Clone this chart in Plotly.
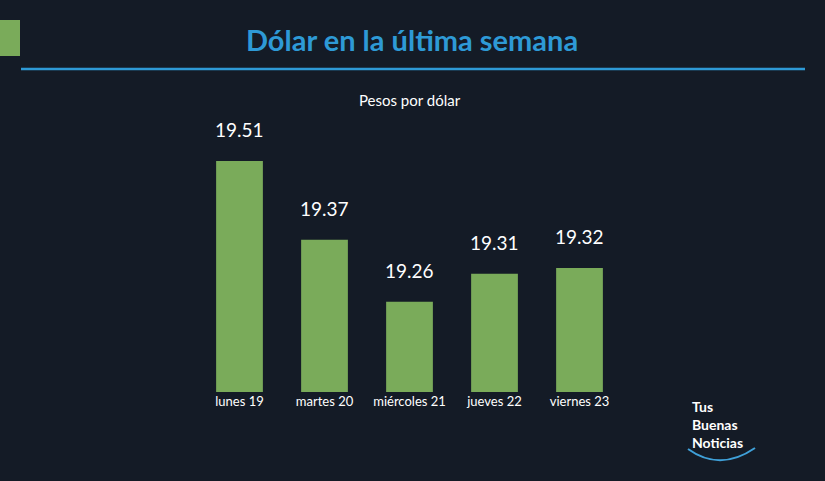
import plotly.graph_objects as go

days = ["lunes 19", "martes 20", "miércoles 21", "jueves 22", "viernes 23"]
values = [19.51, 19.37, 19.26, 19.31, 19.32]

bg = "#141b26"
H = 293.0
def py(p):  # pixel y -> paper y
    return (392 - p) / H
def px(p):
    return (p - 197) / 425.0

fig = go.Figure(go.Bar(
    x=days, y=values, width=0.55, marker_color="#7aab5a", marker_line_width=0,
))
ann = [
    dict(x=d, y=v, yref="y", xref="x", text=f"{v:.2f}", showarrow=False,
         yanchor="bottom", yshift=18, font=dict(color="white", size=19, family="Lato"))
    for d, v in zip(days, values)
]
ann += [
    dict(text="<b>Dólar en la última semana</b>", xref="paper", yref="paper",
         x=px(412), y=py(40), yanchor="middle", showarrow=False,
         font=dict(size=29, color="#2e9ad6", family="Lato")),
    dict(text="Pesos por dólar", xref="paper", yref="paper",
         x=0.5, y=py(100), yanchor="middle", showarrow=False, font=dict(size=15)),
    dict(text="<b>Tus<br>Buenas<br>Noticias</b>", xref="paper", yref="paper",
         x=px(690), y=py(396), xanchor="left", yanchor="top", align="left",
         showarrow=False, font=dict(size=14, family="Lato")),
]
fig.update_layout(
    width=825, height=481, paper_bgcolor=bg, plot_bgcolor=bg,
    margin=dict(l=197, r=203, t=99, b=89), showlegend=False,
    font=dict(family="Lato", color="white"),
    xaxis=dict(showgrid=False, showline=False, zeroline=False, ticks="",
               tickfont=dict(size=13, color="white"), range=[-0.5, 4.5]),
    yaxis=dict(range=[19.10, 19.62], visible=False),
    annotations=ann,
    shapes=[
        dict(type="rect", xref="paper", yref="paper", x0=px(0), x1=px(20),
             y0=py(56), y1=py(20), fillcolor="#7aab5a", line_width=0),
        dict(type="line", xref="paper", yref="paper", x0=px(21), x1=px(805),
             y0=py(69), y1=py(69), line=dict(color="#2e9ad6", width=2.5)),
        dict(type="path", xref="paper", yref="paper",
             path=f"M {px(688)},{py(449)} Q {px(720)},{py(472)} {px(755)},{py(448)}",
             line=dict(color="#3fa0d8", width=2)),
    ],
)
fig.write_html("out.html", config={"displayModeBar": False},
               post_script="document.body.style.margin='0';")
